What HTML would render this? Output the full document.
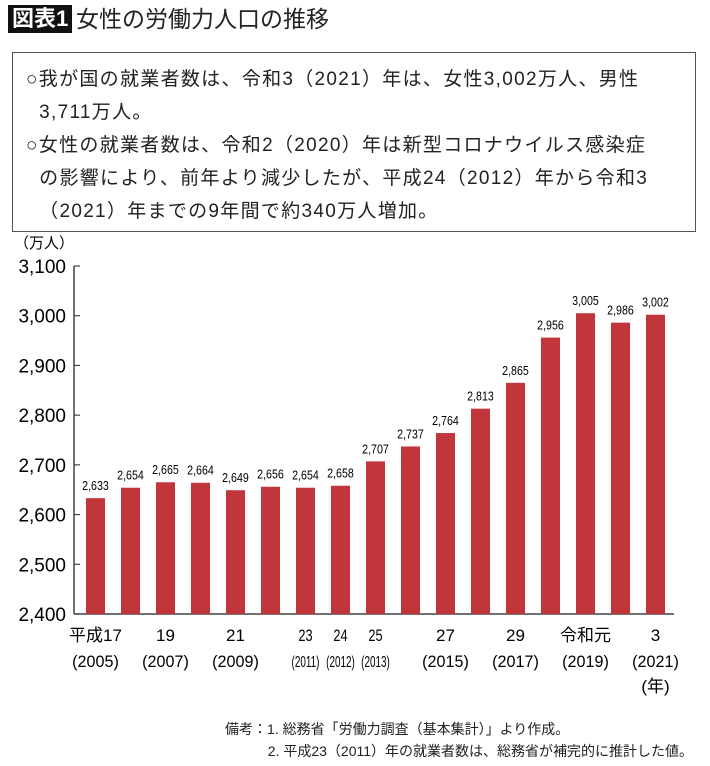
<!DOCTYPE html>
<html><head><meta charset="utf-8"><style>
body{margin:0;width:710px;height:766px;background:#fff;font-family:"Liberation Sans","Noto Sans CJK JP",sans-serif;color:#222;position:relative;overflow:hidden}
.t{position:absolute;white-space:nowrap}
</style></head><body>
<div class="t" style="left:8px;top:5px;background:#111;color:#fff;font-size:22px;font-weight:bold;padding:1px 4px;line-height:26px">図表1</div>
<div class="t" style="left:76px;top:5px;font-size:23px;line-height:28px">女性の労働力人口の推移</div>
<div style="position:absolute;left:12px;top:52px;width:684px;height:180px;border:1.5px solid #555;box-sizing:border-box"></div>
<div class="t" style="left:26px;top:63px;font-size:19px;line-height:33px;letter-spacing:1.3px">○我が国の就業者数は、令和3（2021）年は、女性3,002万人、男性<br>&nbsp;&nbsp;3,711万人。<br>○女性の就業者数は、令和2（2020）年は新型コロナウイルス感染症<br>&nbsp;&nbsp;の影響により、前年より減少したが、平成24（2012）年から令和3<br>&nbsp;&nbsp;（2021）年までの9年間で約340万人増加。</div>
<svg id="c" width="710" height="766" style="position:absolute;left:0;top:0"></svg>
<div class="t" style="left:225px;top:718px;font-size:14px;line-height:22px">備考：1. 総務省「労働力調査（基本集計）」より作成。<br>&nbsp;&nbsp;&nbsp;&nbsp;&nbsp;&nbsp;&nbsp;&nbsp;&nbsp;&nbsp;&nbsp;2. 平成23（2011）年の就業者数は、総務省が補完的に推計した値。</div>
<script>
const years=[2005,2006,2007,2008,2009,2010,2011,2012,2013,2014,2015,2016,2017,2018,2019,2020,2021];
const values=[2633,2654,2665,2664,2649,2656,2654,2658,2707,2737,2764,2813,2865,2956,3005,2986,3002];
const yTicks=[2400,2500,2600,2700,2800,2900,3000,3100];
const xLabels=[["平成17","(2005)"],null,["19","(2007)"],null,["21","(2009)"],null,["23","(2011)"],["24","(2012)"],["25","(2013)"],null,["27","(2015)"],null,["29","(2017)"],null,["令和元","(2019)"],null,["3","(2021)"]];
const svg=document.getElementById('c');const NS='http://www.w3.org/2000/svg';
const y=v=>614-(v-2400)*(348/700);
const x=i=>95.5+i*35;
function mk(t,a,txt){const e=document.createElementNS(NS,t);for(const k in a)e.setAttribute(k,a[k]);if(txt!=null)e.textContent=txt;svg.appendChild(e);return e;}
let e;
e=mk('line',{x1:74,y1:266,x2:74,y2:614,stroke:'#444','stroke-width':1.5});


e=mk('line',{x1:74,y1:614,x2:674,y2:614,stroke:'#444','stroke-width':1.5});


e=mk('text',{x:14,y:248,'font-size':15},'（万人）');


yTicks.forEach(v=>{
 e=mk('line',{x1:74,y1:y(v),x2:80,y2:y(v),stroke:'#444','stroke-width':1.2});
 
 
 e=mk('text',{x:66,y:y(v)+7,'font-size':19,'text-anchor':'end'},v.toLocaleString('en-US'));
 
 
});
values.forEach((v,i)=>{
 e=mk('rect',{x:x(i)-9.5,y:y(v),width:19,height:614-y(v),fill:'#c1363b'});
 
 
 e=mk('text',{x:x(i),y:y(v)-8,'font-size':13,'text-anchor':'middle',transform:`translate(${x(i)},0) scale(0.82,1) translate(${-x(i)},0)`},v.toLocaleString('en-US'));
 
 
});
xLabels.forEach((l,i)=>{
 if(!l)return;
 const small=(i>=6&&i<=8);
 e=mk('text',{x:x(i),y:641,'font-size':17,'text-anchor':'middle',transform:`translate(${x(i)},0) scale(${small?0.75:1},1) translate(${-x(i)},0)`},l[0]);
 
 
 e=mk('text',{x:x(i),y:667,'font-size':small?16:17,'text-anchor':'middle',transform:`translate(${x(i)},0) scale(${small?0.62:0.95},1) translate(${-x(i)},0)`},l[1]);
 
 
});
e=mk('text',{x:x(16),y:692,'font-size':17,'text-anchor':'middle'},'(年)');


</script>
</body></html>
